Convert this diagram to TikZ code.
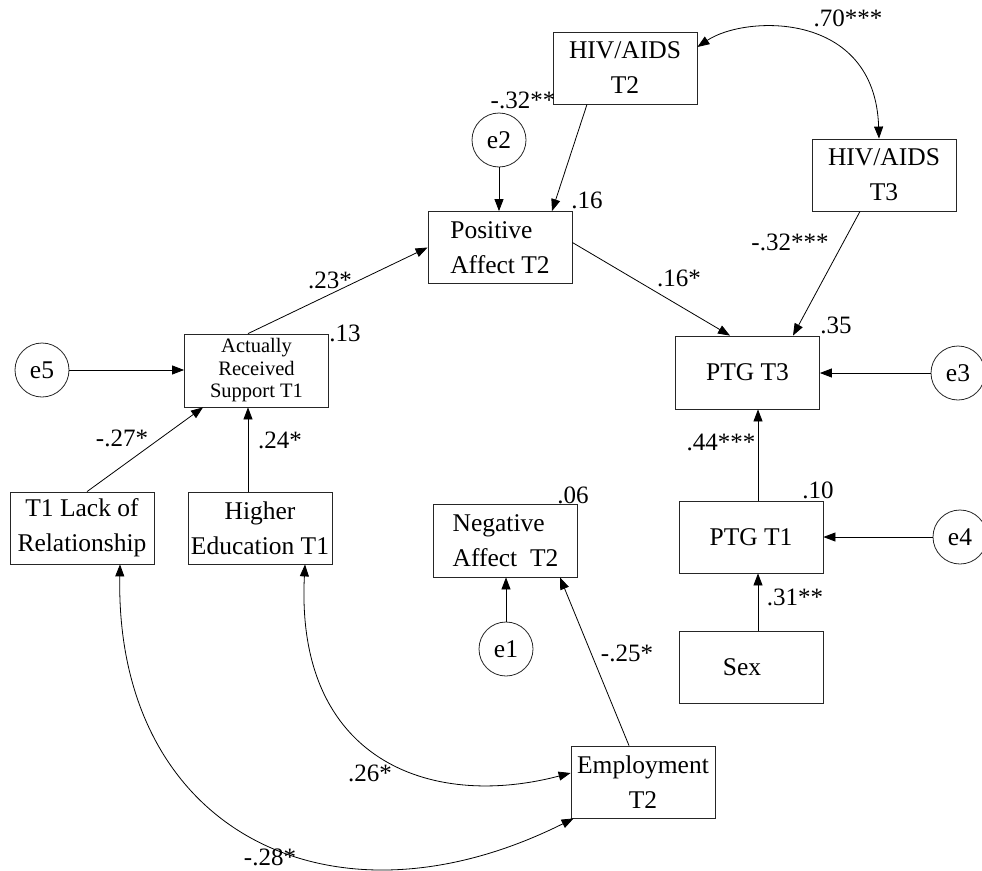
\documentclass[tikz,border=0pt]{standalone}
\usepackage{fontspec}
\setmainfont{Liberation Serif}
\usetikzlibrary{arrows.meta}
\begin{document}
\begin{tikzpicture}[x=1pt,y=-1pt,
  box/.style={draw=black!85, line width=0.8pt, minimum width=144pt, minimum height=72pt, inner sep=0pt, align=center, font=\fontsize{25.5}{35}\selectfont},
  err/.style={draw=black!85, circle, line width=0.8pt, minimum size=54pt, inner sep=0pt, font=\fontsize{25.5}{30}\selectfont},
  lab/.style={inner sep=0pt, font=\fontsize{25}{30}\selectfont},
  arr/.style={line width=0.8pt, -{Triangle[length=12pt,width=9pt]}},
  dbl/.style={line width=0.8pt, {Triangle[length=12pt,width=9pt]}-{Triangle[length=12pt,width=9pt]}}]
\useasboundingbox (0,0) rectangle (982,870);

% nodes
\node[box] (T2) at (625,68) {HIV/AIDS\\T2};
\node[box] (T3) at (884,175) {HIV/AIDS\\T3};
\node[err] (e2) at (499,140) {e2};
\node[box, align=left] (PA) at (500,247.5) {Positive\\Affect T2};
\node[box, minimum height=73pt, font=\fontsize{20.5}{22.5}\selectfont] (ARS) at (256.5,370.5) {Actually\\Received\\Support T1};
\node[err] (e5) at (42,370) {e5};
\node[box, minimum height=73pt] (PTG3) at (747.5,372.5) {PTG T3};
\node[err] (e3) at (958,373) {e3};
\node[box] (T1L) at (82,528) {T1 Lack of\\Relationship};
\node[box] (HE) at (260,528) {Higher\\Education T1};
\node[box, minimum height=73pt, align=left] (NA) at (505.5,540.5) {Negative\\ Affect~~T2};
\node[err] (e1) at (506,649) {e1};
\node[box] (PTG1) at (751,537) {PTG T1};
\node[err] (e4) at (960,537) {e4};
\node[box] (Sex) at (751,667) {Sex\hspace{18pt}};
\node[box] (EMP) at (643,782) {Employment\\T2};

% directed paths
\draw[arr] ([xshift=-38pt]T2.south) -- ([xshift=52pt]PA.north);
\draw[arr] (e2.south) -- (e2.south |- PA.north);
\draw[arr] ([xshift=-8.5pt]ARS.north) -- (PA.west);
\draw[arr] ([yshift=5pt]PA.east) -- ([xshift=-17.5pt]PTG3.north);
\draw[arr] ([xshift=-24pt]T3.south) -- ([xshift=45.5pt]PTG3.north);
\draw[arr] (e3.west) -- (e3.west -| PTG3.east);
\draw[arr] ([xshift=7pt]PTG1.north) -- ([xshift=7pt]PTG1.north |- PTG3.south);
\draw[arr] ([xshift=7pt]Sex.north) -- ([xshift=7pt]PTG1.south);
\draw[arr] (e4.west) -- (e4.west -| PTG1.east);
\draw[arr] (e5.east) -- (e5.east -| ARS.west);
\draw[arr] ([xshift=5pt]T1L.north) -- ([xshift=-53.5pt]ARS.south);
\draw[arr] ([xshift=-12pt]HE.north) -- ([xshift=-12pt]HE.north |- ARS.south);
\draw[arr] ([xshift=-14pt]EMP.north) -- ([xshift=54.5pt]NA.south);
\draw[arr] (e1.north) -- (e1.north |- NA.south);

% covariances
\draw[dbl] ([yshift=21pt]T2.east) .. controls (745,15) and (875,10) .. ([xshift=-5pt]T3.north);
\draw[dbl] ([xshift=38pt]T1L.south) .. controls (115,830) and (330,940) .. ([xshift=3pt]EMP.south west);
\draw[dbl] ([xshift=45pt]HE.south) .. controls (295,760) and (430,810) .. ([yshift=9pt]EMP.west);

% labels
\node[lab] (l70) at (848,18) {.70***};
\node[lab] (l32a) at (523,100) {-.32**};
\node[lab] (l16) at (587,200) {.16};
\node[lab] (l23) at (330,280) {.23*};
\node[lab] (l13) at (345,333) {.13};
\node[lab] (l16s) at (679,278) {.16*};
\node[lab] (l32b) at (790,242) {-.32***};
\node[lab] (l35) at (836,325) {.35};
\node[lab] (l27) at (122,438) {-.27*};
\node[lab] (l24) at (280,440) {.24*};
\node[lab] (l06) at (573,495) {.06};
\node[lab] (l10) at (818,490) {.10};
\node[lab] (l44) at (721,442) {.44***};
\node[lab] (l31) at (795,597) {.31**};
\node[lab] (l25) at (627,653) {-.25*};
\node[lab] (l26) at (370,773) {.26*};
\node[lab] (l28) at (270,857) {-.28*};
\end{tikzpicture}
\end{document}
